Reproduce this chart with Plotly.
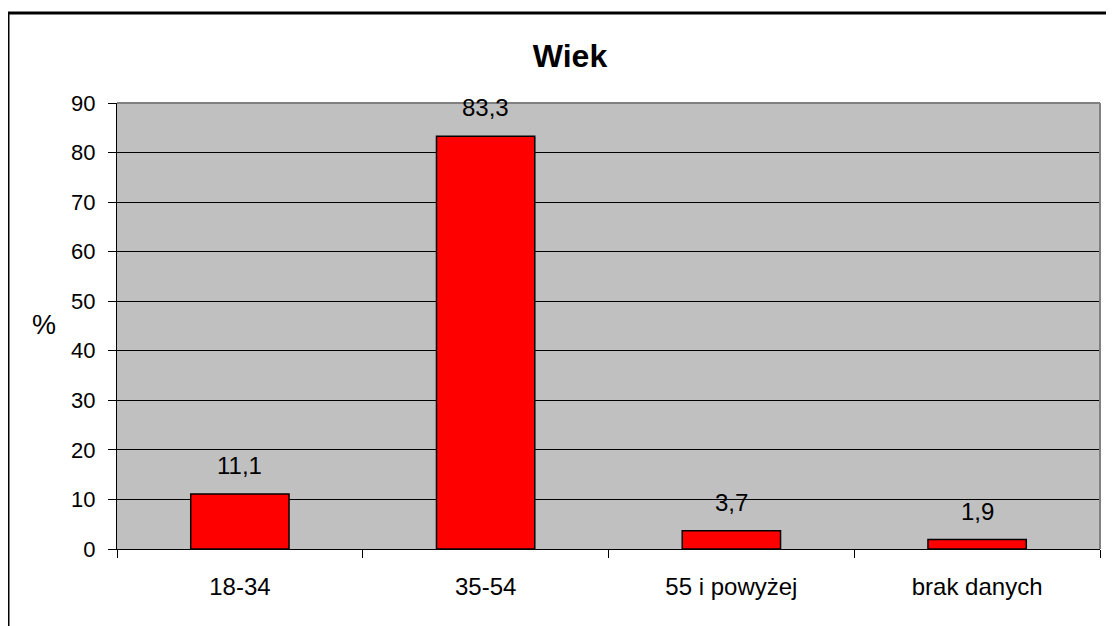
import plotly.graph_objects as go

CATEGORIES = ["18-34", "35-54", "55 i powyżej", "brak danych"]
VALUES = [11.1, 83.3, 3.7, 1.9]
LABELS = ["11,1", "83,3", "3,7", "1,9"]
Y_TICKS = [0, 10, 20, 30, 40, 50, 60, 70, 80, 90]

# the page puts the figure 8px in from the top-left corner
OFF = 8
W, H = 1114, 626
L, R, T, B = 117 - OFF, 22, 103 - OFF, 85
PW, PH = W - L - R, H - T - B
FONT = "Liberation Sans, Arial, sans-serif"


def px_x(x):
    return (x - OFF - L) / PW


def px_y(y):
    return (H - B + OFF - y) / PH


fig = go.Figure(
    go.Bar(
        x=CATEGORIES,
        y=VALUES,
        width=0.4,
        marker=dict(color="#FF0000", line=dict(color="black", width=1.5)),
        showlegend=False,
        hoverinfo="skip",
    )
)

# data labels sit well above the bars, Excel style
for cat, val, lab in zip(CATEGORIES, VALUES, LABELS):
    fig.add_annotation(
        x=cat, y=val, text=lab, showarrow=False,
        yanchor="bottom", yshift=13,
        font=dict(family=FONT, size=24, color="black"),
    )

fig.add_annotation(
    x=px_x(44), y=px_y(325), xref="paper", yref="paper",
    xanchor="center", yanchor="middle",
    text="%", showarrow=False,
    font=dict(family=FONT, size=27, color="black"),
)

# gray top/right border of the plot area
fig.add_shape(type="line", xref="paper", yref="paper", x0=0, x1=1, y0=1, y1=1,
              line=dict(color="#808080", width=2), layer="above")
fig.add_shape(type="line", xref="paper", yref="paper", x0=1, x1=1, y0=0, y1=1,
              line=dict(color="#808080", width=2), layer="above")

# chart-area border
fig.add_shape(type="rect", xref="paper", yref="paper",
              x0=px_x(8), x1=px_x(1140), y0=px_y(660), y1=px_y(13),
              line=dict(color="black", width=3), layer="below")

fig.update_layout(
    width=W, height=H,
    margin=dict(l=L, r=R, t=T, b=B),
    paper_bgcolor="white",
    plot_bgcolor="#C0C0C0",
    bargap=0.6,
    title=dict(
        text="<b>Wiek</b>",
        x=px_x(570), xref="paper", xanchor="center",
        y=1 - (56 - OFF) / H, yref="container", yanchor="middle",
        font=dict(family=FONT, size=32, color="black"),
    ),
    font=dict(family=FONT, color="black"),
    xaxis=dict(
        type="category",
        tickson="boundaries",
        ticks="outside", ticklen=8, tickcolor="black", tickwidth=1,
        showgrid=False,
        showline=True, linecolor="black", linewidth=1,
        tickfont=dict(family=FONT, size=24, color="black"),
        ticklabelstandoff=16,
    ),
    yaxis=dict(
        range=[0, 90],
        tickvals=Y_TICKS,
        ticks="outside", ticklen=8, tickcolor="black", tickwidth=1,
        showgrid=True, gridcolor="black", gridwidth=1,
        zeroline=False,
        showline=True, linecolor="black", linewidth=1,
        tickfont=dict(family=FONT, size=22, color="black"),
        ticklabelstandoff=8,
    ),
)

fig.write_html("out.html")
